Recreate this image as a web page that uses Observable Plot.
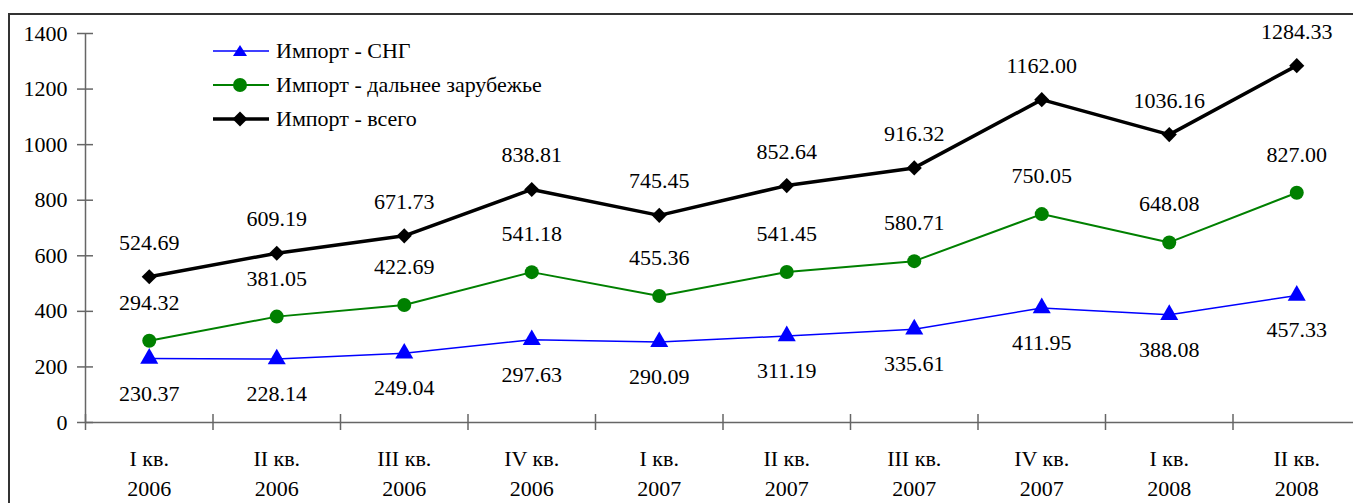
<!DOCTYPE html>
<html><head><meta charset="utf-8">
<script src="https://cdn.jsdelivr.net/npm/d3@7"></script>
<script src="https://cdn.jsdelivr.net/npm/@observablehq/plot@0.6"></script>
<style>
html,body{margin:0;padding:0;background:#fff;overflow:hidden;width:1353px;height:503px;}
#wrap{position:relative;width:1353px;height:503px;overflow:hidden;}
#frame{position:absolute;left:8px;top:13px;width:1400px;height:600px;border:2px solid #333;box-sizing:border-box;pointer-events:none;}
#chart{position:absolute;left:0;top:0;width:1368px;height:503px;}
#chart svg{max-width:none !important;width:1368px;height:503px;}
#legend{position:absolute;left:212px;top:34px;font-family:"Liberation Serif","Times New Roman",Tinos,"DejaVu Serif",serif;font-size:22px;color:#000;}
#legend .row{height:34px;display:flex;align-items:center;}
#legend svg{margin-right:6px;}
svg text{font-family:"Liberation Serif","Times New Roman",Tinos,"DejaVu Serif",serif !important;}
</style>
</head><body>
<div id="wrap"><div id="frame"></div><div id="chart"></div><div id="legend"></div></div>
<script>
const quarters = ["I кв.\n2006","II кв.\n2006","III кв.\n2006","IV кв.\n2006","I кв.\n2007","II кв.\n2007","III кв.\n2007","IV кв.\n2007","I кв.\n2008","II кв.\n2008"];
const importCIS = [230.37,228.14,249.04,297.63,290.09,311.19,335.61,411.95,388.08,457.33];
const importFar = [294.32,381.05,422.69,541.18,455.36,541.45,580.71,750.05,648.08,827.00];
const importTotal = [524.69,609.19,671.73,838.81,745.45,852.64,916.32,1162.00,1036.16,1284.33];
const seriesNames = ["Импорт - СНГ","Импорт - дальнее зарубежье","Импорт - всего"];
const yTicks = [0,200,400,600,800,1000,1200,1400];

const rows = (vals) => vals.map((v,i)=>({i: i+0.5, v, q: quarters[i]}));
const cis = rows(importCIS), far = rows(importFar), tot = rows(importTotal);
const bounds = d3.range(0, quarters.length + 1);
const font = "'Liberation Serif', 'Times New Roman', Tinos, 'DejaVu Serif', serif";
const axisColor = "#666";

const chart = Plot.plot({
  width: 1368, height: 503,
  marginLeft: 85, marginRight: 8, marginTop: 33, marginBottom: 81,
  style: {fontFamily: font, fontSize: "22px", background: "transparent", color: "#000", maxWidth: "none"},
  x: {domain: [0, quarters.length], axis: null},
  y: {domain: [0, 1400], axis: null},
  marks: [
    Plot.ruleX([0], {y1: 0, y2: 1400, stroke: axisColor, strokeWidth: 1.5}),
    Plot.ruleY([0], {x1: 0, x2: quarters.length, stroke: axisColor, strokeWidth: 1.5}),
    Plot.ruleY(yTicks, {y: d=>d, x1: 0, x2: 0, insetLeft: -8, insetRight: -8, stroke: axisColor, strokeWidth: 1.5}),
    Plot.ruleX(bounds, {x: d=>d, y1: 0, y2: 0, insetTop: -8, insetBottom: -8, stroke: axisColor, strokeWidth: 1.5}),
    Plot.text(yTicks, {x: 0, y: d=>d, text: d=>String(d), textAnchor: "end", dx: -18, fontSize: 22}),
    Plot.text(cis, {x: "i", y: 0, text: "q", lineAnchor: "top", dy: 22, lineHeight: 1.38, fontSize: 22}),
    Plot.line(cis, {x: "i", y: "v", stroke: "#0000ff", strokeWidth: 1.5}),
    Plot.line(far, {x: "i", y: "v", stroke: "#008000", strokeWidth: 2}),
    Plot.line(tot, {x: "i", y: "v", stroke: "#000", strokeWidth: 3.5}),
    Plot.dot(cis, {x: "i", y: "v", symbol: "triangle", r: 6.7, fill: "#0000ff", stroke: "none"}),
    Plot.dot(far, {x: "i", y: "v", symbol: "circle", r: 7, fill: "#008000", stroke: "none"}),
    Plot.dot(tot, {x: "i", y: "v", symbol: "diamond2", r: 6.8, fill: "#000", stroke: "none"}),
    Plot.text(cis, {x: "i", y: "v", text: d=>d.v.toFixed(2), dy: 35, fontSize: 22}),
    Plot.text(far, {x: "i", y: "v", text: d=>d.v.toFixed(2), dy: -38, fontSize: 22}),
    Plot.text(tot, {x: "i", y: "v", text: d=>d.v.toFixed(2), dy: -34, fontSize: 22})
  ]
});
document.getElementById("chart").appendChild(chart);

const legend = document.getElementById("legend");
const legendStyles = [
  {color: "#0000ff", w: 1.5, shape: `<path d="M28,2 L35,13 L21,13 Z" fill="#0000ff"/>`},
  {color: "#008000", w: 2, shape: `<circle cx="28" cy="8" r="7" fill="#008000"/>`},
  {color: "#000", w: 3.5, shape: `<path d="M28,0.5 L35.5,8 L28,15.5 L20.5,8 Z" fill="#000"/>`}
];
seriesNames.forEach((name, k) => {
  const s = legendStyles[k];
  const row = document.createElement("div");
  row.className = "row";
  row.innerHTML = `<svg width="58" height="16" viewBox="0 0 58 16"><line x1="1" x2="57" y1="8" y2="8" stroke="${s.color}" stroke-width="${s.w}"/>${s.shape}</svg><span>${name}</span>`;
  legend.appendChild(row);
});
</script>
</body></html>
